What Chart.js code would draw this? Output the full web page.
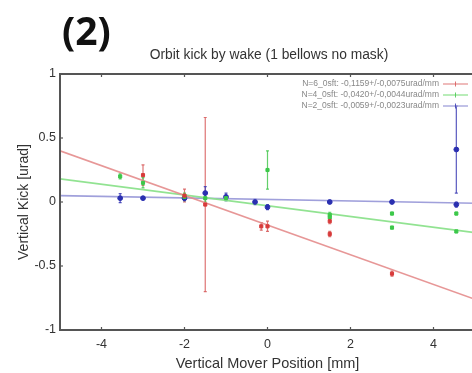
<!DOCTYPE html>
<html><head><meta charset="utf-8">
<script src="https://cdn.jsdelivr.net/npm/chart.js@4.4.1/dist/chart.umd.min.js"></script>
<style>html,body{margin:0;padding:0;background:#fff;overflow:hidden;width:472px;height:373px}#wrap{position:relative;width:482px;height:373px}</style>
</head><body><div id="wrap"><canvas id="c" width="482" height="373"></canvas></div>
<script>
// ---- data ----
const xTicks = [-4, -2, 0, 2, 4];
const yTicks = [-1, -0.5, 0, 0.5, 1];

const redX   = [-3.0, -2.0, -1.5, -0.15, 0.0, 1.5, 1.5, 3.0];
const redY   = [0.21, 0.05, -0.02, -0.19, -0.19, -0.15, -0.25, -0.56];
const redErr = [0.08, 0.05, 0.68, 0.03, 0.04, 0.02, 0.02, 0.02];

const greenX   = [-3.55, -3.0, -2.0, -1.5, -1.0, 0.0, 1.5, 1.5, 3.0, 3.0, 4.55, 4.55];
const greenY   = [0.20, 0.15, 0.04, 0.03, 0.03, 0.25, -0.10, -0.12, -0.09, -0.20, -0.09, -0.23];
const greenErr = [0.02, 0.04, 0.03, 0.03, 0.02, 0.15, 0.02, 0.02, 0.01, 0.01, 0.01, 0.01];

const blueX   = [-3.55, -3.0, -2.0, -1.5, -1.0, -0.3, 0.0, 1.5, 3.0, 4.55, 4.55];
const blueY   = [0.03, 0.03, 0.03, 0.07, 0.04, 0.0, -0.04, 0.0, 0.0, -0.02, 0.41];
const blueErr = [0.035, 0.01, 0.02, 0.05, 0.03, 0.02, 0.02, 0.01, 0.01, 0.02, 0.34];

const fitX     = [-5, 5];
const redFit   = [0.40, -0.76];
const greenFit = [0.18, -0.24];
const blueFit  = [0.05, -0.01];

const legendLabels = [
  'N=6_0sft: -0,1159+/-0,0075urad/mm',
  'N=4_0sft: -0,0420+/-0,0044urad/mm',
  'N=2_0sft: -0,0059+/-0,0023urad/mm'
];

const RED = '#d83a3a', GREEN = '#3cc84a', BLUE = '#2a2fb0';
const RED_L = 'rgba(228,140,140,0.9)', GREEN_L = 'rgba(140,225,140,0.95)', BLUE_L = 'rgba(150,150,215,0.9)';

function pts(xs, ys){ return xs.map((x,i)=>({x:x, y:ys[i]})); }

const errSets = [
  {xs: redX, ys: redY, es: redErr, color: 'rgba(215,90,90,0.85)'},
  {xs: greenX, ys: greenY, es: greenErr, color: 'rgba(70,200,80,0.85)'},
  {xs: blueX, ys: blueY, es: blueErr, color: 'rgba(60,60,180,0.85)'}
];

const FONT = '"Liberation Sans", Arial, sans-serif';

const extras = {
  id: 'extras',
  beforeDatasetsDraw(chart){
    const ctx = chart.ctx, xs = chart.scales.x, ys = chart.scales.y;
    ctx.save();
    ctx.lineWidth = 1.2;
    errSets.forEach(s=>{
      ctx.strokeStyle = s.color;
      s.xs.forEach((x,i)=>{
        const px = xs.getPixelForValue(x);
        const t = ys.getPixelForValue(s.ys[i]+s.es[i]);
        const b = ys.getPixelForValue(s.ys[i]-s.es[i]);
        ctx.beginPath(); ctx.moveTo(px,t); ctx.lineTo(px,b); ctx.stroke();
        ctx.beginPath(); ctx.moveTo(px-1.5,t); ctx.lineTo(px+1.5,t); ctx.moveTo(px-1.5,b); ctx.lineTo(px+1.5,b); ctx.stroke();
      });
    });
    ctx.restore();
  },
  afterDraw(chart){
    const ctx = chart.ctx, a = chart.chartArea, xs = chart.scales.x, ys = chart.scales.y;
    ctx.save();
    // box
    ctx.strokeStyle = '#555'; ctx.lineWidth = 2;
    ctx.strokeRect(a.left, a.top, a.right-a.left, a.bottom-a.top);
    // inward ticks
    ctx.lineWidth = 1.2; ctx.strokeStyle = '#555';
    xTicks.forEach(v=>{
      const px = xs.getPixelForValue(v);
      ctx.beginPath(); ctx.moveTo(px,a.top); ctx.lineTo(px,a.top+3);
      ctx.moveTo(px,a.bottom); ctx.lineTo(px,a.bottom-3); ctx.stroke();
    });
    yTicks.forEach(v=>{
      const py = ys.getPixelForValue(v);
      ctx.beginPath(); ctx.moveTo(a.left,py); ctx.lineTo(a.left+3,py); ctx.stroke();
    });
    // legend
    const cols = [RED_L, GREEN_L, BLUE_L];
    ctx.font = '8.5px ' + FONT;
    ctx.fillStyle = '#888'; ctx.textAlign = 'right'; ctx.textBaseline = 'middle';
    legendLabels.forEach((t,i)=>{
      const y = a.top + 10 + i*11;
      ctx.fillText(t, 439, y);
      ctx.strokeStyle = cols[i]; ctx.lineWidth = 1.3;
      ctx.beginPath(); ctx.moveTo(443,y); ctx.lineTo(468,y); ctx.stroke();
      ctx.strokeStyle = errSets[i].color; ctx.lineWidth = 1;
      ctx.beginPath(); ctx.moveTo(455.5,y-2.5); ctx.lineTo(455.5,y+2.5); ctx.stroke();
    });
    // panel label and title
    ctx.fillStyle = '#111'; ctx.textAlign = 'left'; ctx.textBaseline = 'alphabetic';
    ctx.font = 'bold 39px "Open Sans", "DejaVu Sans", sans-serif';
    ctx.fillText('(2)', 62, 45);
    ctx.fillStyle = '#333'; ctx.textAlign = 'center';
    ctx.font = '13.8px ' + FONT;
    ctx.fillText('Orbit kick by wake (1 bellows no mask)', 269, 59);
    ctx.restore();
  }
};

new Chart(document.getElementById('c'), {
  type: 'scatter',
  data: {
    datasets: [
      {type:'line', data: pts(fitX, redFit), borderColor: RED_L, borderWidth: 1.6, pointRadius: 0, order: 5},
      {type:'line', data: pts(fitX, greenFit), borderColor: GREEN_L, borderWidth: 1.8, pointRadius: 0, order: 5},
      {type:'line', data: pts(fitX, blueFit), borderColor: BLUE_L, borderWidth: 1.6, pointRadius: 0, order: 5},
      {data: pts(redX, redY), backgroundColor: RED, borderColor: RED, pointRadius: 2.2, pointStyle: 'rect', order: 1},
      {data: pts(greenX, greenY), backgroundColor: GREEN, borderColor: GREEN, pointRadius: 2.2, pointStyle: 'rect', order: 1},
      {data: pts(blueX, blueY), backgroundColor: BLUE, borderColor: BLUE, pointRadius: 2.4, order: 1}
    ]
  },
  options: {
    responsive: false, animation: false,
    layout: {padding: {top: 74, right: 7, left: 0, bottom: 0}},
    plugins: {legend: {display: false}, tooltip: {enabled: false}},
    scales: {
      x: {
        type: 'linear', min: -5, max: 5,
        afterBuildTicks: s => { s.ticks = xTicks.map(v=>({value:v})); },
        afterFit: s => { s.height = 43; },
        grid: {display: false, drawTicks: false},
        border: {display: false},
        ticks: {color: '#333', font: {size: 12.5, family: FONT}, padding: 7, maxRotation: 0},
        title: {display: true, text: 'Vertical Mover Position [mm]', color: '#333', font: {size: 14.5, family: FONT}, padding: {top: 2, bottom: 0}}
      },
      y: {
        type: 'linear', min: -1, max: 1,
        afterBuildTicks: s => { s.ticks = yTicks.map(v=>({value:v})); },
        afterFit: s => { s.width = 60; },
        grid: {display: false, drawTicks: false},
        border: {display: false},
        ticks: {color: '#333', font: {size: 12.5, family: FONT}, padding: 4, callback: v => String(v)},
        title: {display: true, text: 'Vertical Kick [urad]', color: '#333', font: {size: 14, family: FONT}, padding: {top: 16, bottom: 2}}
      }
    }
  },
  plugins: [extras]
});
</script></body></html>
